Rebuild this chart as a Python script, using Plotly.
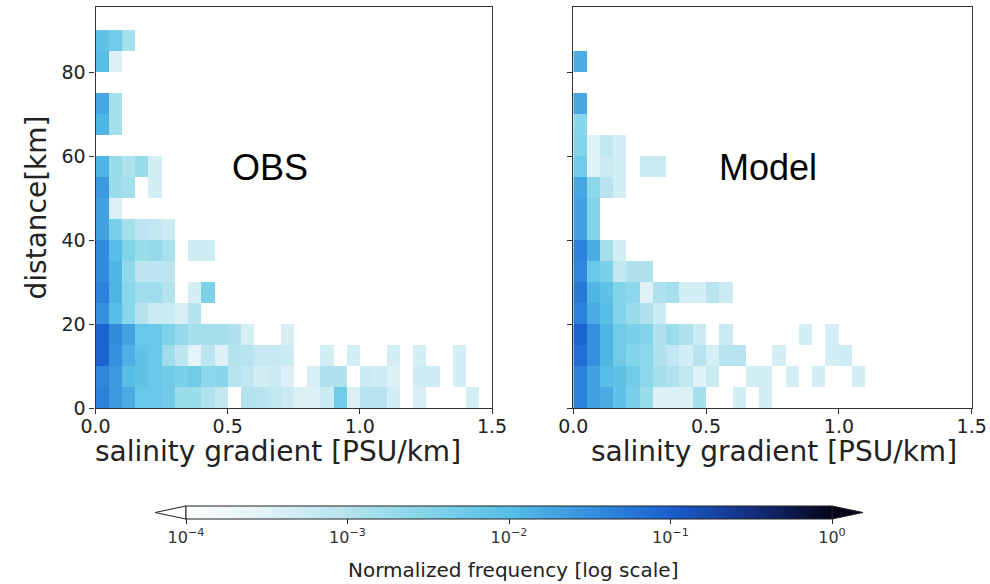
import numpy as np
import plotly.graph_objects as go

# ---------------- data ----------------
# salinity gradient bins (PSU/km): 30 bins of 0.05 from 0 to 1.5
x_bin_start = 0.0
x_bin_width = 0.05
# distance bins (km): 5 km bins from 0
y_bin_start = 0.0
y_bin_width = 5.0

# log10(normalized frequency); None = empty bin.  Row i = distance bin i (0-5, 5-10, ...)
obs_log10_freq = [
    [-1.35, -1.6, -1.8, -2.2, -2.2, -2.3, -2.75, -2.75, -2.95, -3.15, None, -3.0, -3.05, -3.15, -3.25,
     -3.45, -3.45, -3.25, -2.3, -3.45, -3.05, -3.05, -3.35, None, -3.4, None, None, None, -3.35, None],
    [-1.4, -1.6, -2.0, -2.1, -2.2, -2.3, -2.4, -2.3, -2.6, -2.55, -3.05, -3.15, -3.35, -3.25, -3.45,
     None, -3.4, -2.95, -2.95, None, -3.25, -3.3, -3.45, None, -3.3, -3.3, None, -3.35, None, None],
    [-1.05, -1.5, -1.85, -2.1, -2.2, -2.8, -3.1, -3.55, -3.1, -3.45, -3.0, -3.05, -3.2, -3.2, -3.25,
     None, None, -3.35, None, -3.35, None, None, -3.35, None, -3.35, None, None, -3.35, None, None],
    [-1.05, -1.45, -1.7, -2.2, -2.2, -2.45, -2.7, -2.85, -2.85, -2.85, -2.95, -3.4, None, None, -3.4,
     None, None, None, None, None, None, None, None, None, None, None, None, None, None, None],
    [-1.5, -2.0, -2.55, -3.0, -3.25, -3.25, -3.4, -3.0] + [None] * 22,
    [-1.35, -1.9, -2.55, -2.8, -2.8, -3.0, None, -3.35, -2.45] + [None] * 21,
    [-1.45, -1.9, -2.65, -3.1, -3.1, -3.1] + [None] * 24,
    [-1.45, -2.0, -2.5, -2.75, -2.7, -2.9, None, -3.3, -3.3] + [None] * 21,
    [-1.7, -2.4, -2.85, -3.1, -3.15, -3.25] + [None] * 24,
    [-1.7, -3.45] + [None] * 28,
    [-1.6, -2.75, -2.85, None, -3.35] + [None] * 25,
    [-1.9, -2.75, -2.95, -2.75, -3.35] + [None] * 25,
    [None] * 30,
    [-1.9, -2.85] + [None] * 28,
    [-1.75, -2.85] + [None] * 28,
    [None] * 30,
    [-2.0, -3.45] + [None] * 28,
    [-2.1, -2.3, -2.85] + [None] * 27,
]

model_log10_freq = [
    [-1.35, -1.7, -1.8, -2.1, -2.4, -2.75, -3.45, -3.45, -3.45, -2.85, None, None, -3.35, None, -3.35]
    + [None] * 15,
    [-1.35, -1.7, -2.0, -2.1, -2.3, -2.6, -2.85, -2.95, -3.15, -3.5, -3.25, None, None, -3.35, -3.35,
     None, -3.35, None, -3.35, None, None, -3.35] + [None] * 8,
    [-1.15, -1.5, -1.9, -2.3, -2.5, -2.6, -2.95, -3.15, -3.35, -3.05, -3.35, -3.05, -3.05, None, None,
     -3.35, None, None, None, -3.35, -3.3] + [None] * 9,
    [-1.05, -1.5, -1.9, -2.3, -2.4, -2.5, -2.95, -2.75, -2.95, -3.25, None, -3.25, None, None, None,
     None, None, -3.35, None, -3.35] + [None] * 10,
    [-1.35, -1.8, -2.0, -2.5, -2.75, -2.95, -3.25] + [None] * 23,
    [-1.25, -1.9, -2.1, -2.5, -2.6, -3.5, -2.95, -2.85, -3.35, -3.35, -3.05, -3.25] + [None] * 18,
    [-1.4, -2.2, -2.4, -3.15, -2.95, -2.95] + [None] * 24,
    [-1.35, -1.8, -2.85, -3.35] + [None] * 26,
    [-1.7, -2.5] + [None] * 28,
    [-1.7, -2.5] + [None] * 28,
    [-1.75, -2.6, -3.05, -3.35] + [None] * 26,
    [-2.3, -3.5, -3.25, -3.35, None, -3.25, -3.25] + [None] * 23,
    [-2.5, -3.5, -3.15, -3.35] + [None] * 26,
    [-2.55] + [None] * 29,
    [-1.75] + [None] * 29,
    [None] * 30,
    [-1.8] + [None] * 29,
    [None] * 30,
]

x_ticks = [0.0, 0.5, 1.0, 1.5]
x_tick_text = ["0.0", "0.5", "1.0", "1.5"]
y_ticks = [0, 20, 40, 60, 80]
cbar_ticks = [-4, -3, -2, -1, 0]
cbar_tick_text = ["10<sup>−4</sup>", "10<sup>−3</sup>", "10<sup>−2</sup>", "10<sup>−1</sup>", "10<sup>0</sup>"]
panel_labels = ["OBS", "Model"]
x_title = "salinity gradient [PSU/km]"
y_title = "distance[km]"
cbar_title = "Normalized frequency [log scale]"

# ---------------- style ----------------
W, H = 990, 584
colorscale = [
    [0.000, "#ffffff"],
    [0.125, "#e0f2f6"],
    [0.250, "#b4e3ee"],
    [0.375, "#82d4e8"],
    [0.500, "#58bee6"],
    [0.625, "#3590de"],
    [0.750, "#1a5fcf"],
    [0.875, "#132f80"],
    [1.000, "#04051a"],
]


def px_x(p):
    return p / W


def px_y(p):
    return 1 - p / H


fig = go.Figure()

for i, z in enumerate([obs_log10_freq, model_log10_freq]):
    fig.add_trace(go.Heatmap(
        z=z,
        x0=x_bin_start + x_bin_width / 2, dx=x_bin_width,
        y0=y_bin_start + y_bin_width / 2, dy=y_bin_width,
        coloraxis="coloraxis",
        xaxis="x" if i == 0 else "x2",
        yaxis="y" if i == 0 else "y2",
        hoverongaps=False,
        name=panel_labels[i],
    ))

tickfont = dict(family="DejaVu Sans", size=19, color="#222")
title_font = dict(family="DejaVu Sans", size=28, color="#222")
axis_common = dict(
    showgrid=False, zeroline=False, showline=True, linecolor="#333", linewidth=1.2,
    mirror=True, ticks="outside", ticklen=5, tickcolor="#333", tickwidth=1.2,
    tickfont=tickfont,
)
x_extra = dict(ticklabelstandoff=-4)

fig.update_layout(
    width=W, height=H,
    margin=dict(l=0, r=0, t=0, b=0),
    paper_bgcolor="white", plot_bgcolor="white",
    showlegend=False,
    xaxis=dict(domain=[px_x(95.5), px_x(492)], range=[0, 1.5], tickvals=x_ticks, ticktext=x_tick_text,
               anchor="y", automargin=False, **axis_common, **x_extra),
    yaxis=dict(domain=[px_y(408), px_y(7)], range=[0, 95.5], tickvals=y_ticks,
               title=dict(text=y_title, font=title_font, standoff=6),
               anchor="x", automargin=False, **axis_common),
    xaxis2=dict(domain=[px_x(573.3), px_x(971.7)], range=[0, 1.5], tickvals=x_ticks, ticktext=x_tick_text,
                anchor="y2", automargin=False, **axis_common, **x_extra),
    yaxis2=dict(domain=[px_y(408), px_y(7)], range=[0, 95.5], tickvals=y_ticks, showticklabels=False,
                anchor="x2", automargin=False, **axis_common),
    coloraxis=dict(
        cmin=-4, cmax=0, colorscale=colorscale,
        colorbar=dict(
            orientation="h",
            x=px_x((186 + 832) / 2), xanchor="center",
            y=px_y(506), yanchor="top",
            len=(832 - 186) / W, lenmode="fraction",
            xpad=0, ypad=0,
            thickness=13, thicknessmode="pixels",
            outlinecolor="#222", outlinewidth=1,
            tickvals=cbar_ticks, ticktext=cbar_tick_text,
            ticks="outside", ticklen=5, tickcolor="#222",
            tickfont=dict(family="DejaVu Sans", size=16, color="#333"),
        ),
    ),
)

# x-axis titles (placed as in the reference)
for cx in (278, 774):
    fig.add_annotation(text=x_title, x=px_x(cx), y=px_y(451), xref="paper", yref="paper",
                       xanchor="center", yanchor="middle", showarrow=False, font=title_font)

# colorbar title
fig.add_annotation(text=cbar_title, x=px_x(513), y=px_y(570), xref="paper", yref="paper",
                   xanchor="center", yanchor="middle", showarrow=False,
                   font=dict(family="DejaVu Sans", size=20, color="#222"))

# colorbar extension triangles (matplotlib extend='both')
cb_y0, cb_y1 = px_y(519), px_y(506)
cb_ymid = (cb_y0 + cb_y1) / 2
fig.add_shape(type="path", xref="paper", yref="paper",
              path=f"M {px_x(186)},{cb_y0} L {px_x(155)},{cb_ymid} L {px_x(186)},{cb_y1} Z",
              fillcolor="#ffffff", line=dict(color="#222", width=1))
fig.add_shape(type="path", xref="paper", yref="paper",
              path=f"M {px_x(832)},{cb_y0} L {px_x(863)},{cb_ymid} L {px_x(832)},{cb_y1} Z",
              fillcolor="#04051a", line=dict(color="#222", width=1))

# panel labels
for i, lab in enumerate(panel_labels):
    fig.add_annotation(text=lab, x=[0.66, 0.733][i], y=57.2,
                       xref="x" if i == 0 else "x2", yref="y" if i == 0 else "y2",
                       showarrow=False, font=dict(family="Liberation Sans", size=36, color="black"))

fig.write_html("out.html", config={"displayModeBar": False},
               post_script="document.body.style.margin='0';")
